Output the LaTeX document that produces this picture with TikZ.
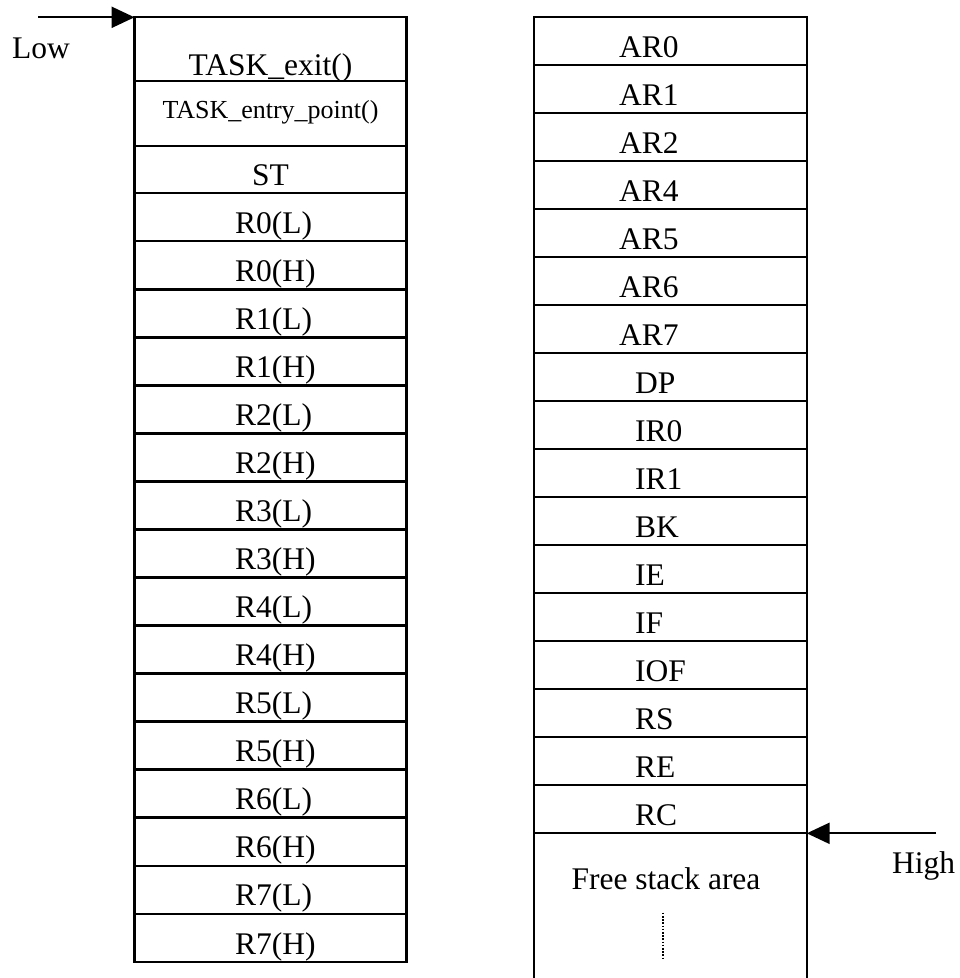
\documentclass[tikz,border=0pt]{standalone}
\usepackage{fontspec}
\setmainfont{Liberation Serif}
\usetikzlibrary{arrows.meta}
\begin{document}
\begin{tikzpicture}[x=1pt,y=-1pt,
  box/.style={line width=2.3pt},
  arr/.style={line width=2.3pt,-{Triangle[length=23pt,width=21pt]}},
  lbl/.style={font=\fontsize{31.5}{36}\selectfont, inner sep=0pt, anchor=base},
  lbll/.style={lbl, anchor=base west},
  small/.style={font=\fontsize{26}{30}\selectfont, inner sep=0pt, anchor=base}]
\useasboundingbox (0,0) rectangle (960,978);
% left column
\draw[box] (134.5,17.3) rectangle (406.5,961.7);
\draw[box] (134.5,81) -- (406.5,81);
\draw[box] (134.5,146) -- (406.5,146);
\draw[box] (134.5,193.3) -- (406.5,193.3);
\foreach \k in {1,...,15} \draw[box] (134.5,{193.3+48.025*\k}) -- (406.5,{193.3+48.025*\k});
\node[lbl] (texit) at (270.5,75.5) {TASK\_exit()};
\node[small] (tentry) at (270.5,118.3) {TASK\_entry\_point()};
\node[lbl] (st) at (270.5,185.5) {ST};
\foreach \t [count=\i from 1] in {R0(L),R0(H),R1(L),R1(H),R2(L),R2(H),R3(L),R3(H),R4(L),R4(H),R5(L),R5(H),R6(L),R6(H),R7(L),R7(H)}
  \node[lbll] (lreg\i) at (235,{193.3+48.025*\i-7.7}) {\t};
% right column
\draw[box] (534.3,978) -- (534.3,17.3) -- (806.7,17.3) -- (806.7,978);
\foreach \k in {1,...,17} \draw[box] (534.3,{17.3+48*\k}) -- (806.7,{17.3+48*\k});
\foreach \t [count=\i from 1] in {AR0,AR1,AR2,AR4,AR5,AR6,AR7}
  \node[lbll] (rar\i) at (619,{17.3+48*\i-7.5}) {\t};
\foreach \t [count=\i from 8] in {DP,IR0,IR1,BK,IE,IF,IOF,RS,RE,RC}
  \node[lbll] (rreg\i) at (635,{17.3+48*\i-7.5}) {\t};
\node[lbl] (free) at (666,889) {Free stack area};
\draw[line width=1.6pt, dash pattern=on 1.6pt off 1.6pt] (662.7,912.7) -- (662.7,957.7);
% arrows
\coordinate (lowstart) at (38,17.3);
\coordinate (lowtip) at (134.5,17.3);
\draw[arr] (lowstart) -- (lowtip);
\node[lbll] (low) at (12,58) {Low};
\coordinate (highstart) at (936,833.3);
\coordinate (hightip) at (806.7,833.3);
\draw[arr] (highstart) -- (hightip);
\node[lbll] (high) at (892,873) {High};
\end{tikzpicture}
\end{document}
